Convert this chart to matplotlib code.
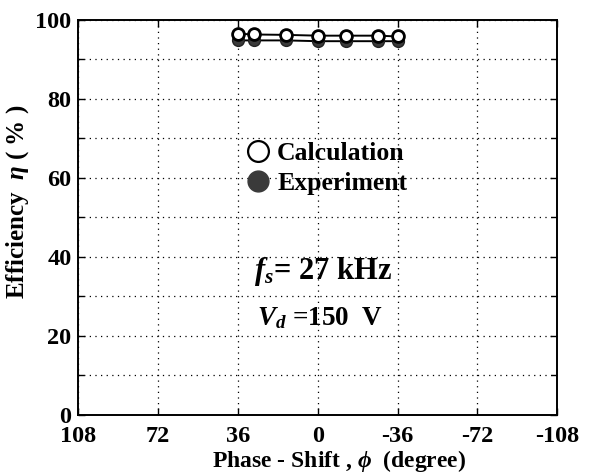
import matplotlib
matplotlib.use("Agg")
import matplotlib.pyplot as plt
from matplotlib.ticker import MultipleLocator
from matplotlib.lines import Line2D

plt.rcParams['font.family'] = ['Liberation Serif', 'DejaVu Serif']
plt.rcParams['font.weight'] = 'bold'
plt.rcParams['mathtext.fontset'] = 'custom'
plt.rcParams['mathtext.rm'] = 'Liberation Serif:bold'
plt.rcParams['mathtext.it'] = 'Liberation Serif:italic:bold'
plt.rcParams['mathtext.bf'] = 'Liberation Serif:bold'

# Phase shift (degree) and efficiency (%)
phase = [36, 28.8, 14.4, 0, -12.6, -27, -36]
eta_calc = [96.5, 96.3, 96.2, 96.0, 96.0, 96.0, 95.8]
eta_exp = [94.8, 94.8, 94.8, 94.6, 94.6, 94.6, 94.6]

x_ticks = [108, 72, 36, 0, -36, -72, -108]
y_ticks = [0, 20, 40, 60, 80, 100]

fig = plt.figure(figsize=(6.03, 4.73), dpi=100)
ax = fig.add_axes([0.13, 0.123, 0.794, 0.835])

ax.set_xlim(108, -108)
ax.set_ylim(0, 100)
ax.set_xticks(x_ticks)
ax.set_xticklabels([str(v) for v in x_ticks])
ax.set_yticks(y_ticks)
ax.yaxis.set_minor_locator(MultipleLocator(10))

ax.grid(True, which='both', color='black', linestyle=(0, (1, 3.5)), linewidth=0.9)
ax.tick_params(which='both', direction='in', top=True, right=True,
               labelsize=17.5, width=1.0, color='black')
ax.tick_params(axis='x', pad=8)
ax.tick_params(axis='y', pad=5)
ax.tick_params(which='major', length=5)
ax.tick_params(which='minor', length=4)
for lab in ax.get_xticklabels() + ax.get_yticklabels():
    lab.set_fontweight('bold')
for s in ax.spines.values():
    s.set_linewidth(1.4)

# Measured values (filled) drawn first, calculated values (open) on top
ax.plot(phase, eta_exp, '-o', color='black', lw=1.4, markersize=8.5,
        markerfacecolor='#3a3a3a', markeredgecolor='#222222', zorder=3)
ax.plot(phase, eta_calc, '-o', color='black', lw=1.4, markersize=8.5,
        markerfacecolor='white', markeredgecolor='black', markeredgewidth=2.0,
        zorder=4)

ax.set_xlabel(r'Phase - Shift , $\phi$  (degree)', fontsize=17, fontweight='bold')
ax.set_ylabel(r'Efficiency  $\eta$ ( % )', fontsize=18, fontweight='bold')
ax.xaxis.set_label_coords(0.545, -0.084)
ax.yaxis.set_label_coords(-0.1, 0.54)

handles = [
    Line2D([], [], linestyle='none', marker='o', markersize=15,
           markerfacecolor='white', markeredgecolor='black', markeredgewidth=1.6),
    Line2D([], [], linestyle='none', marker='o', markersize=15,
           markerfacecolor='#3a3a3a', markeredgecolor='#3a3a3a'),
]
leg = ax.legend(handles, ['Calculation', 'Experiment'], loc='upper left',
                bbox_to_anchor=(0.332, 0.718), frameon=False, fontsize=18.5,
                handlelength=0.8, handletextpad=0.35, labelspacing=0.3,
                borderaxespad=0)
for t in leg.get_texts():
    t.set_fontweight('bold')

ax.text(0.367, 0.362, r'$f_s$= 27 kHz', transform=ax.transAxes,
        fontsize=22, fontweight='bold', ha='left', va='center')
ax.text(0.373, 0.246, r'$V_d$ =150  V', transform=ax.transAxes,
        fontsize=19.5, fontweight='bold', ha='left', va='center')

fig.savefig('out.png', dpi=100)
